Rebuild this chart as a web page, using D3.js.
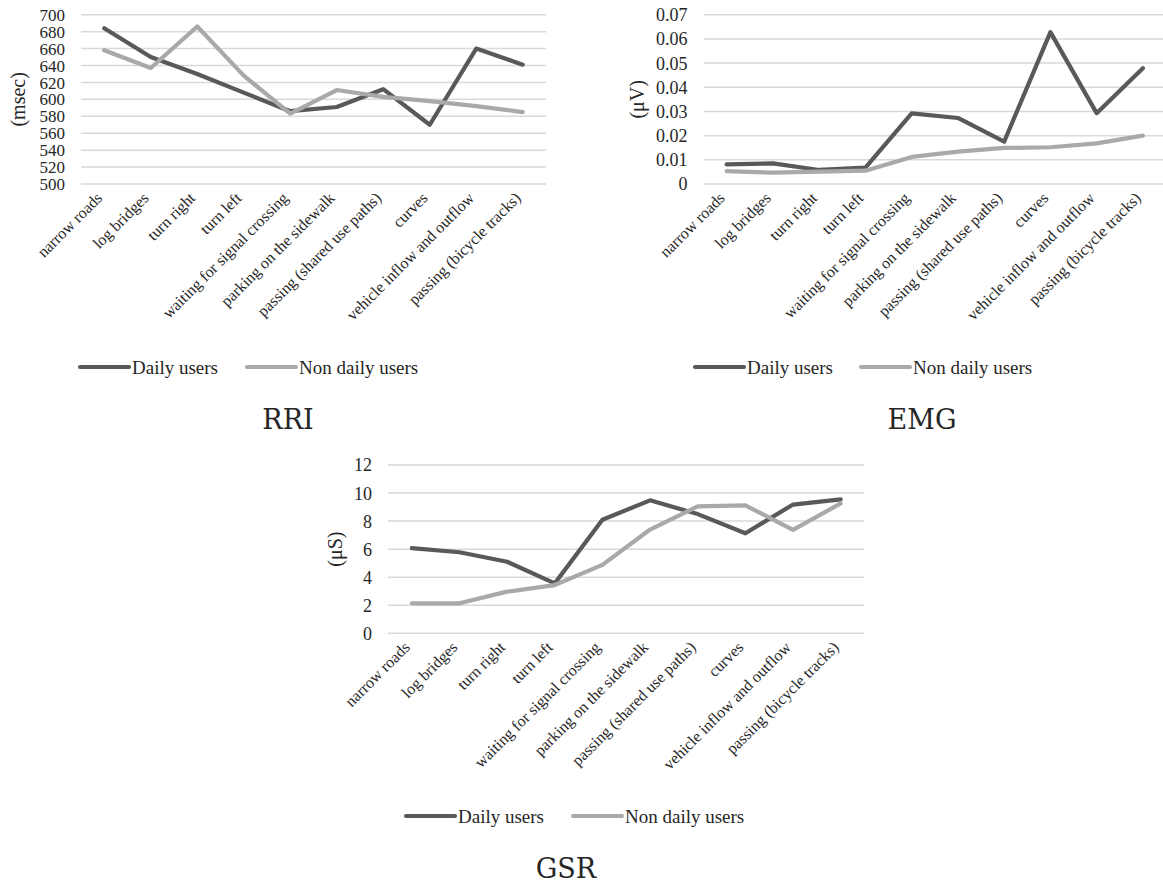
<!DOCTYPE html>
<html>
<head>
<meta charset="utf-8">
<script src="https://cdn.jsdelivr.net/npm/d3@7"></script>
<style>
  html, body { margin: 0; padding: 0; background: #fff; }
  svg { display: block; }
  text { font-family: "Liberation Serif", "Times New Roman", serif; fill: #262626; }
</style>
</head>
<body>
<svg id="chart" width="1163" height="885"></svg>
<script>
// ---- Data ----
const categories = [
  "narrow roads", "log bridges", "turn right", "turn left",
  "waiting for signal crossing", "parking on the sidewalk",
  "passing (shared use paths)", "curves", "vehicle inflow and outflow",
  "passing (bicycle tracks)"
];
const seriesNames = ["Daily users", "Non daily users"];

const rriDaily    = [684, 650, 630, 608, 586, 591, 612, 570, 660, 641];
const rriNonDaily = [658, 637, 686, 628, 583, 611, 603, 598, 592, 585];
const rriTicks    = [500, 520, 540, 560, 580, 600, 620, 640, 660, 680, 700];

const emgDaily    = [0.0081, 0.0085, 0.0058, 0.0068, 0.0292, 0.0273, 0.0175, 0.0628, 0.0293, 0.0479];
const emgNonDaily = [0.0053, 0.0047, 0.0051, 0.0055, 0.0112, 0.0134, 0.0149, 0.0152, 0.0168, 0.0200];
const emgTicks    = [0, 0.01, 0.02, 0.03, 0.04, 0.05, 0.06, 0.07];

const gsrDaily    = [6.07, 5.78, 5.10, 3.56, 8.10, 9.48, 8.50, 7.13, 9.18, 9.55];
const gsrNonDaily = [2.14, 2.14, 2.97, 3.44, 4.88, 7.40, 9.05, 9.12, 7.38, 9.26];
const gsrTicks    = [0, 2, 4, 6, 8, 10, 12];

// ---- Layout (positions / styles only) ----
const colors = ["#595959", "#a9a9a9"];
const panels = [
  { title: "RRI", unit: "(msec)", daily: rriDaily, non: rriNonDaily, ticks: rriTicks,
    fmt: d => String(d), tickSize: 17,
    left: 81, right: 546, top: 14.7, bottom: 184, unitX: 18,
    legendY: 367, legendX: 80, legend2X: 247, titleX: 288, titleY: 429 },
  { title: "EMG", unit: "(\u03bcV)", daily: emgDaily, non: emgNonDaily, ticks: emgTicks,
    fmt: d => d === 0 ? "0" : d.toFixed(2), tickSize: 18,
    left: 703.6, right: 1166, top: 14.7, bottom: 184, unitX: 637,
    legendY: 367, legendX: 695, legend2X: 861, titleX: 922, titleY: 429 },
  { title: "GSR", unit: "(\u03bcS)", daily: gsrDaily, non: gsrNonDaily, ticks: gsrTicks,
    fmt: d => String(d), tickSize: 18,
    left: 388, right: 864.5, top: 465, bottom: 633.3, unitX: 335,
    legendY: 816, legendX: 406, legend2X: 573, titleX: 566, titleY: 878 }
];

const svg = d3.select("#chart");

panels.forEach(p => {
  const g = svg.append("g");
  const x = d3.scaleBand().domain(categories).range([p.left, p.right]);
  const y = d3.scaleLinear()
    .domain([d3.min(p.ticks), d3.max(p.ticks)])
    .range([p.bottom, p.top]);

  // gridlines
  g.append("g").selectAll("line").data(p.ticks).join("line")
    .attr("x1", p.left).attr("x2", p.right)
    .attr("y1", d => y(d)).attr("y2", d => y(d))
    .attr("stroke", "#d9d9d9").attr("stroke-width", 1.5);

  // y axis tick labels
  const yAxis = d3.axisLeft(y).tickValues(p.ticks).tickFormat(p.fmt).tickSize(0).tickPadding(16);
  const ya = g.append("g").attr("transform", `translate(${p.left},0)`).call(yAxis);
  ya.select(".domain").remove();
  ya.selectAll("text")
    .attr("font-family", "Liberation Serif")
    .attr("font-size", p.tickSize).attr("fill", "#262626").attr("dy", "0.33em");

  // unit label
  g.append("text")
    .attr("transform", `translate(${p.unitX},${(p.top + p.bottom) / 2}) rotate(-90)`)
    .attr("text-anchor", "middle").attr("dy", "0.35em")
    .attr("font-size", 20).text(p.unit);

  // x axis category labels
  const xAxis = d3.axisBottom(x).tickSize(0).tickPadding(0);
  const xa = g.append("g").attr("transform", `translate(0,${p.bottom})`).call(xAxis);
  xa.select(".domain").remove();
  xa.selectAll("text")
    .attr("font-family", "Liberation Serif")
    .attr("font-size", 16).attr("fill", "#262626")
    .attr("text-anchor", "end")
    .attr("dy", null)
    .attr("y", null)
    .attr("transform", "translate(-1,15) rotate(-45)");

  // lines
  const line = d3.line()
    .x((d, i) => x(categories[i]) + x.bandwidth() / 2)
    .y(d => y(d));
  [p.daily, p.non].forEach((vals, si) => {
    g.append("path").datum(vals)
      .attr("d", line)
      .attr("fill", "none")
      .attr("stroke", colors[si])
      .attr("stroke-width", 4.2)
      .attr("stroke-linejoin", "round")
      .attr("stroke-linecap", "round");
  });

  // legend
  const lx = [p.legendX, p.legend2X];
  seriesNames.forEach((name, si) => {
    g.append("line")
      .attr("x1", lx[si]).attr("x2", lx[si] + 49)
      .attr("y1", p.legendY).attr("y2", p.legendY)
      .attr("stroke", colors[si]).attr("stroke-width", 4.2).attr("stroke-linecap", "round");
    g.append("text")
      .attr("x", lx[si] + 52).attr("y", p.legendY).attr("dy", "0.35em")
      .attr("font-size", 19).text(name);
  });

  // title
  g.append("text")
    .attr("x", p.titleX).attr("y", p.titleY)
    .attr("text-anchor", "middle")
    .attr("font-size", 27).attr("fill", "#111")
    .style("font-family", "'DejaVu Serif', serif")
    .text(p.title);
});
</script>
</body>
</html>
